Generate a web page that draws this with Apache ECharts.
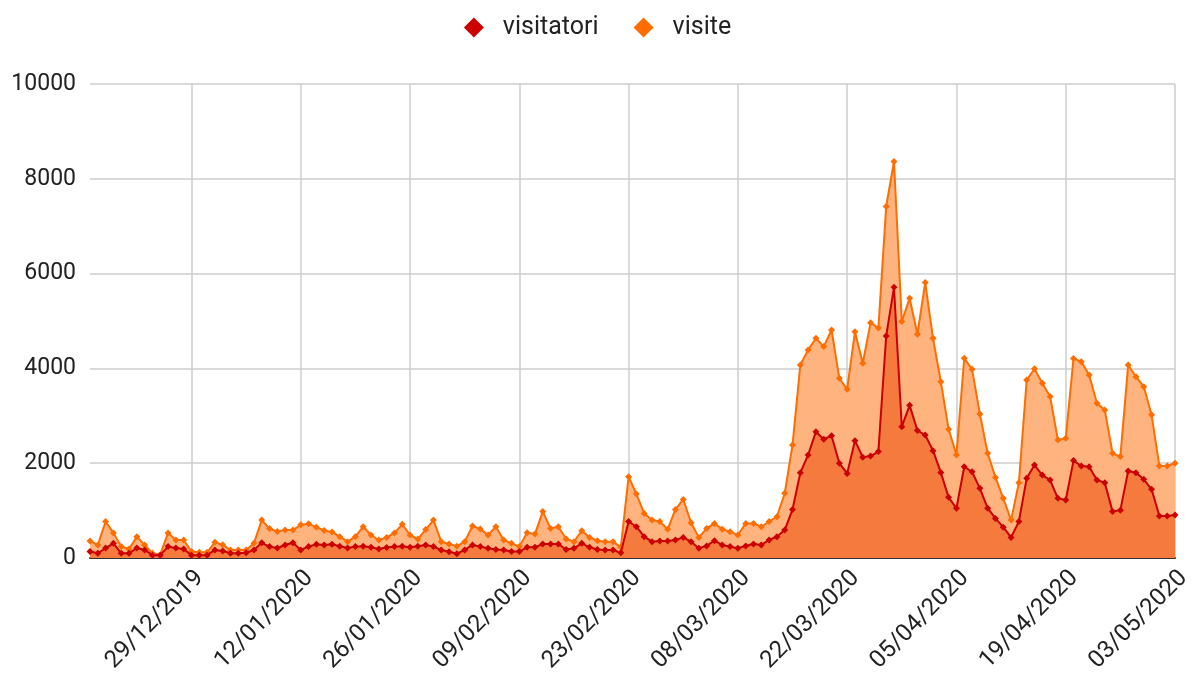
<!DOCTYPE html>
<html>
<head>
<meta charset="utf-8">
<script src="https://cdn.jsdelivr.net/npm/echarts@6/dist/echarts.min.js"></script>
<style>
html,body{margin:0;padding:0;background:#fff;}
#chart{width:1195px;height:679px;}
</style>
</head>
<body>
<div id="chart"></div>
<script>
// First date of the series (daily categories)
var startDate = [2019, 12, 16];
var dayCount = 140;
var seriesNames = ['visitatori', 'visite'];
var yTicks = [0, 2000, 4000, 6000, 8000, 10000];

var visitatori = [
  135,100,210,310,100,100,210,170,60,60,
  240,210,190,60,60,60,170,150,100,100,
  110,170,320,240,210,275,320,170,240,290,
  275,290,250,210,240,250,225,190,220,240,
  250,225,250,275,240,170,130,90,170,275,
  240,205,180,170,135,135,225,225,295,295,
  295,180,205,310,225,180,170,170,110,770,
  660,450,345,360,360,380,435,345,205,255,
  365,275,240,205,255,295,275,380,450,590,
  1025,1800,2175,2665,2505,2580,2000,1785,2475,2125,
  2150,2245,4685,5710,2770,3220,2690,2595,2265,1805,
  1280,1050,1925,1820,1470,1050,835,650,435,770,
  1680,1960,1750,1645,1260,1225,2055,1940,1925,1645,
  1590,980,1010,1835,1800,1660,1450,885,885,905
];
var visite = [
  360,275,770,530,240,190,450,275,100,70,
  530,380,380,135,120,120,330,280,170,170,
  170,310,800,620,560,590,590,700,720,650,
  580,550,450,345,450,660,485,380,430,530,
  710,485,400,600,800,345,295,250,345,675,
  610,485,660,380,310,240,535,505,980,625,
  660,400,345,575,435,365,345,345,225,1715,
  1350,940,800,770,605,1025,1235,745,435,625,
  730,605,555,485,730,730,660,770,870,1365,
  2385,4072,4390,4635,4460,4810,3790,3560,4775,4110,
  4965,4850,7415,8365,4990,5480,4720,5810,4635,3720,
  2715,2175,4215,3980,3040,2210,1700,1260,800,1590,
  3755,3990,3685,3405,2490,2525,4210,4140,3860,3265,
  3125,2210,2140,4070,3825,3615,3020,1940,1940,2000
];

function pad(n){return (n<10?'0':'')+n;}
var categories = [];
(function(){
  var d = new Date(Date.UTC(startDate[0], startDate[1]-1, startDate[2]));
  for (var i=0;i<dayCount;i++){
    categories.push(pad(d.getUTCDate())+'/'+pad(d.getUTCMonth()+1)+'/'+d.getUTCFullYear());
    d.setUTCDate(d.getUTCDate()+1);
  }
})();

var tickEvery = 14, tickOffset = 13;
function showTick(idx){ return idx >= tickOffset && (idx - tickOffset) % tickEvery === 0; }

var chart = echarts.init(document.getElementById('chart'), null, {renderer:'canvas'});
chart.setOption({
  animation:false,
  textStyle:{fontFamily:'Roboto'},
  legend:{
    top:10, left:'center',
    itemWidth:20, itemHeight:20, itemGap:35,
    textStyle:{fontSize:25, color:'#222', fontFamily:'Roboto', padding:[0,0,0,14]},
    data:[{name:'visitatori', icon:'diamond'},{name:'visite', icon:'diamond'}]
  },
  grid:{left:90, right:20, top:84, bottom:121},
  xAxis:{
    type:'category', data:categories, boundaryGap:false,
    axisLine:{lineStyle:{color:'#333', width:2}},
    axisTick:{show:false},
    axisLabel:{interval:function(i){return showTick(i);}, rotate:45, fontSize:24, color:'#222',
               margin:8, verticalAlign:'top', fontFamily:'Roboto'},
    splitLine:{show:true, interval:function(i){return showTick(i);}, lineStyle:{color:'#cccccc', width:1.5}}
  },
  yAxis:{
    type:'value', min:yTicks[0], max:yTicks[yTicks.length-1], interval:2000,
    axisLine:{show:false}, axisTick:{show:false},
    axisLabel:{fontSize:23, color:'#222', margin:14, fontFamily:'Roboto',
               formatter:function(v){return String(v);}},
    splitLine:{lineStyle:{color:'#cccccc', width:1.5}}
  },
  series:[
    {name:seriesNames[0], type:'line', data:visitatori, z:4,
     symbol:'diamond', symbolSize:7, showSymbol:true, showAllSymbol:true,
     itemStyle:{color:'#cc0000'}, lineStyle:{color:'#cc0000', width:2},
     areaStyle:{color:'#f47a3e', opacity:1}},
    {name:seriesNames[1], type:'line', data:visite, z:3,
     symbol:'diamond', symbolSize:7, showSymbol:true, showAllSymbol:true,
     itemStyle:{color:'#ff6d01'}, lineStyle:{color:'#ff6d01', width:2},
     areaStyle:{color:'#ffb480', opacity:1}}
  ]
});
</script>
</body>
</html>
